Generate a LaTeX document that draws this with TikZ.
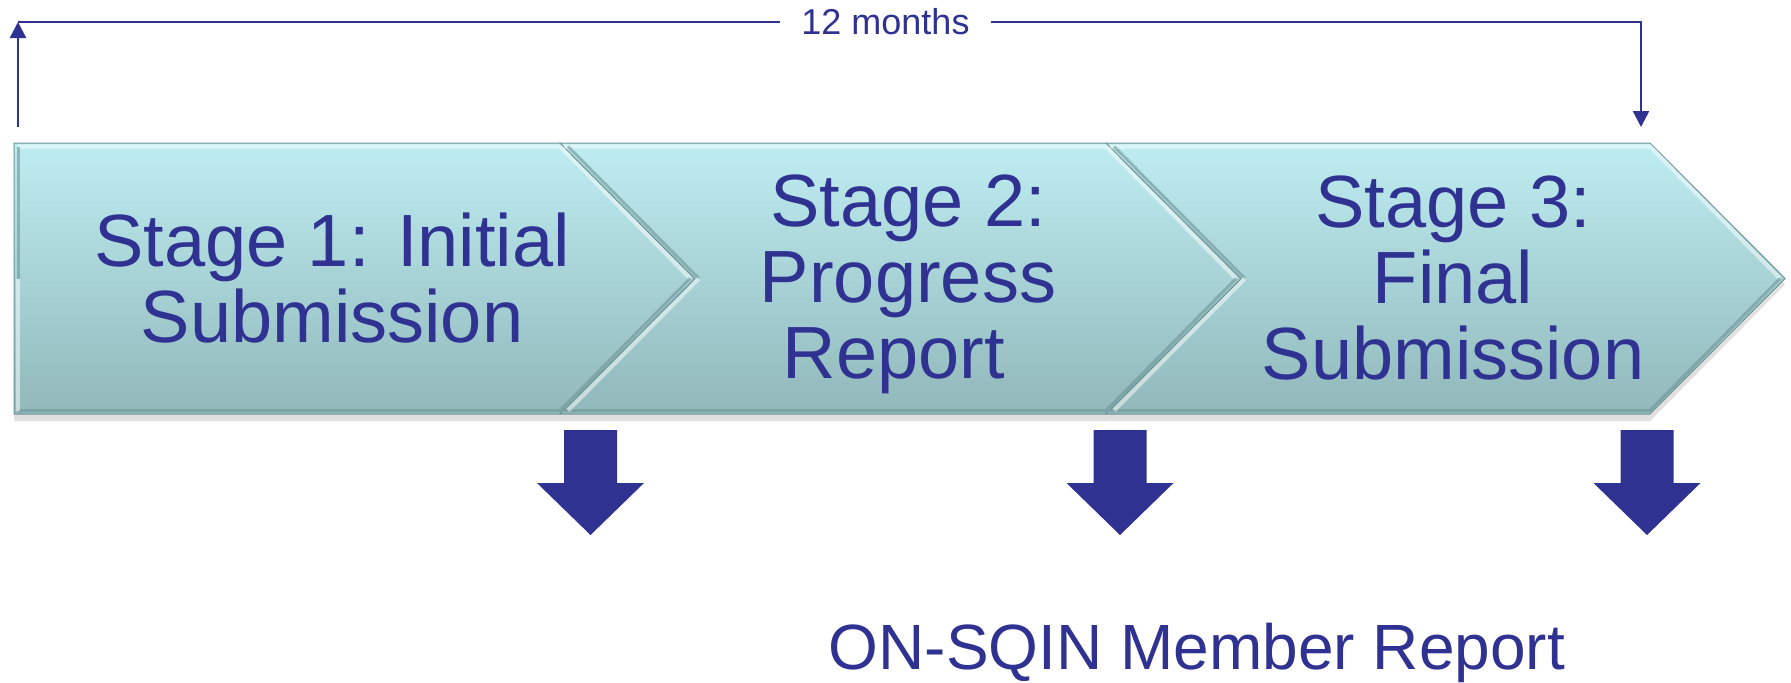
\documentclass[tikz,border=0pt]{standalone}
\usepackage{fontspec}
\setmainfont{Liberation Sans}
\usetikzlibrary{arrows.meta}
\definecolor{stageblue}{RGB}{48,50,146}
\definecolor{chevtop}{RGB}{190,237,241}
\definecolor{chevbot}{RGB}{145,184,187}
\definecolor{chevedge}{RGB}{112,148,150}
\tikzset{
 stage/.style={top color=chevtop, bottom color=chevbot, draw=chevedge, line width=0.5pt},
 stagetext/.style={text=stageblue, align=center, font=\fontsize{37}{38}\selectfont},
 lightbevel/.style={white,opacity=0.5,line width=2pt},
 darkbevel/.style={chevedge,opacity=0.6,line width=1.5pt},
 spanline/.style={draw=stageblue, line width=1.2pt},
 spantip/.style={-{Triangle[width=8pt,length=8pt]}},
}

\begin{document}
\begin{tikzpicture}[x=0.5pt,y=-0.5pt]
\useasboundingbox (0,0) rectangle (1791,682);
% shadows under the chevrons
\foreach \number/\xa/\xb/\notch in {1/14/560/0,2/560/1106/135,3/1106/1650/135}{
\fill[black,opacity=0.12] (\xa,149) -- (\xb,149) -- (\xb+135,284.5) -- (\xb,421) -- (\xa,421) -- (\xa+\notch,284.5) -- cycle;
}
% chevrons, notch on the left of 2 and 3
\foreach \number/\xa/\xb/\notch in {1/14/560/0,2/560/1106/135,3/1106/1650/135}{
\shade[stage] (\xa,143) -- (\xb,143) -- (\xb+135,278.5) -- (\xb,414) -- (\xa,414) -- (\xa+\notch,278.5) -- cycle;
\draw[lightbevel] (\xa+4,146.5) -- (\xb,146.5) -- (\xb+130,278.5); % top and upper tip
\draw[darkbevel] (\xb+130,278.5) -- (\xb,410.5) -- (\xa+4,410.5); % lower tip and bottom
\draw[darkbevel] (\xa+4+\notch*0.03,146.5) -- (\xa+4+\notch,278.5); % upper notch side
\draw[lightbevel] (\xa+4+\notch,278.5) -- (\xa+4+\notch*0.03,410.5); % lower notch side
}
\node[stagetext] (S-1) at (332,278) {Stage 1: Initial\\Submission};
\node[stagetext] (S-2) at (908,284) {Stage 2:\\Progress\\Report\hspace*{14pt}};
\node[stagetext] (S-3) at (1453,278) {Stage 3:\\Final\\Submission};
% block arrows under the stages
\foreach \number/\xc in {1/590.5,2/1120,3/1647}{
\fill[stageblue] (\xc-26.5,430) -- (\xc+26.5,430) -- (\xc+26.5,483) -- (\xc+53.5,483) -- (\xc,535) -- (\xc-53.5,483) -- (\xc-26.5,483) -- cycle;
}
% 12 month span
\coordinate (spanL) at (18,127);
\coordinate (spanR) at (1641,127);
\node[text=stageblue, font=\fontsize{18}{18}\selectfont, inner xsep=10.5pt, inner ysep=0pt] (months) at (885.5,22) {12 months};
\draw[spanline,spantip] (spanL) -- (spanL |- months);
\draw[spanline] (spanL |- months) -- (months);
\draw[spanline,spantip] (months) -| (spanR);
\node[text=stageblue, font=\fontsize{32}{32}\selectfont] (report) at (1197,653) {ON-SQIN Member Report};
\end{tikzpicture}
\end{document}
